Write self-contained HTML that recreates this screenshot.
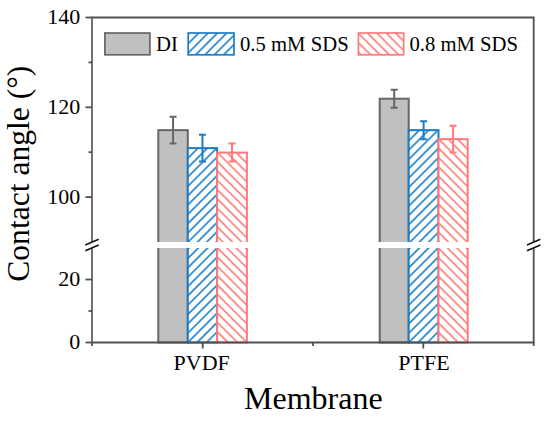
<!DOCTYPE html><html><head><meta charset="utf-8"><style>html,body{margin:0;padding:0;background:#fff;width:550px;height:422px;overflow:hidden}svg{display:block}text{font-family:"Liberation Serif",serif;fill:#000;font-kerning:none}</style></head><body>
<svg width="550" height="422" viewBox="0 0 550 422">
<defs>
<pattern id="p0" patternUnits="userSpaceOnUse" width="6.6" height="40" patternTransform="translate(0.80,0) rotate(45)"><rect x="-0.8" y="0" width="1.6" height="40" fill="#1b7dc8"/><rect x="5.8" y="0" width="1.6" height="40" fill="#1b7dc8"/></pattern>
<pattern id="p1" patternUnits="userSpaceOnUse" width="6.6" height="40" patternTransform="translate(7.60,0) rotate(45)"><rect x="-0.8" y="0" width="1.6" height="40" fill="#1b7dc8"/><rect x="5.8" y="0" width="1.6" height="40" fill="#1b7dc8"/></pattern>
<pattern id="p2" patternUnits="userSpaceOnUse" width="6.6" height="40" patternTransform="translate(9.00,0) rotate(-45)"><rect x="-0.8" y="0" width="1.6" height="40" fill="#ff7b7b"/><rect x="5.8" y="0" width="1.6" height="40" fill="#ff7b7b"/></pattern>
<pattern id="p3" patternUnits="userSpaceOnUse" width="6.6" height="40" patternTransform="translate(7.00,0) rotate(-45)"><rect x="-0.8" y="0" width="1.6" height="40" fill="#ff7b7b"/><rect x="5.8" y="0" width="1.6" height="40" fill="#ff7b7b"/></pattern>
<pattern id="p4" patternUnits="userSpaceOnUse" width="6.6" height="40" patternTransform="translate(8.10,0) rotate(45)"><rect x="-0.8" y="0" width="1.6" height="40" fill="#1b7dc8"/><rect x="5.8" y="0" width="1.6" height="40" fill="#1b7dc8"/></pattern>
<pattern id="p5" patternUnits="userSpaceOnUse" width="6.6" height="40" patternTransform="translate(4.60,0) rotate(45)"><rect x="-0.8" y="0" width="1.6" height="40" fill="#1b7dc8"/><rect x="5.8" y="0" width="1.6" height="40" fill="#1b7dc8"/></pattern>
<pattern id="p6" patternUnits="userSpaceOnUse" width="6.6" height="40" patternTransform="translate(1.00,0) rotate(-45)"><rect x="-0.8" y="0" width="1.6" height="40" fill="#ff7b7b"/><rect x="5.8" y="0" width="1.6" height="40" fill="#ff7b7b"/></pattern>
<pattern id="p7" patternUnits="userSpaceOnUse" width="6.6" height="40" patternTransform="translate(3.60,0) rotate(-45)"><rect x="-0.8" y="0" width="1.6" height="40" fill="#ff7b7b"/><rect x="5.8" y="0" width="1.6" height="40" fill="#ff7b7b"/></pattern>
<pattern id="p8" patternUnits="userSpaceOnUse" width="6.6" height="40" patternTransform="translate(7.80,0) rotate(45)"><rect x="-0.8" y="0" width="1.6" height="40" fill="#1b7dc8"/><rect x="5.8" y="0" width="1.6" height="40" fill="#1b7dc8"/></pattern>
<pattern id="p9" patternUnits="userSpaceOnUse" width="6.6" height="40" patternTransform="translate(7.80,0) rotate(-45)"><rect x="-0.8" y="0" width="1.6" height="40" fill="#ff7b7b"/><rect x="5.8" y="0" width="1.6" height="40" fill="#ff7b7b"/></pattern>
</defs>
<rect width="550" height="422" fill="#fff"/>
<rect x="158.30" y="130.15" width="29.50" height="212.35" fill="#c0c0c0" stroke="#666666" stroke-width="2"/>
<rect x="187.80" y="148.11" width="29.30" height="194.39" fill="#fff"/>
<rect x="187.80" y="148.11" width="29.30" height="94.89" fill="url(#p0)"/>
<rect x="187.80" y="247.00" width="29.30" height="95.50" fill="url(#p1)"/>
<rect x="187.80" y="148.11" width="29.30" height="194.39" fill="none" stroke="#1b7dc8" stroke-width="2"/>
<rect x="217.10" y="152.60" width="29.80" height="189.90" fill="#fff"/>
<rect x="217.10" y="152.60" width="29.80" height="90.40" fill="url(#p2)"/>
<rect x="217.10" y="247.00" width="29.80" height="95.50" fill="url(#p3)"/>
<rect x="217.10" y="152.60" width="29.80" height="189.90" fill="none" stroke="#ff7b7b" stroke-width="2"/>
<rect x="379.70" y="98.72" width="29.00" height="243.78" fill="#c0c0c0" stroke="#666666" stroke-width="2"/>
<rect x="408.70" y="130.15" width="29.80" height="212.35" fill="#fff"/>
<rect x="408.70" y="130.15" width="29.80" height="112.85" fill="url(#p4)"/>
<rect x="408.70" y="247.00" width="29.80" height="95.50" fill="url(#p5)"/>
<rect x="408.70" y="130.15" width="29.80" height="212.35" fill="none" stroke="#1b7dc8" stroke-width="2"/>
<rect x="438.50" y="139.13" width="29.20" height="203.37" fill="#fff"/>
<rect x="438.50" y="139.13" width="29.20" height="103.87" fill="url(#p6)"/>
<rect x="438.50" y="247.00" width="29.20" height="95.50" fill="url(#p7)"/>
<rect x="438.50" y="139.13" width="29.20" height="203.37" fill="none" stroke="#ff7b7b" stroke-width="2"/>
<path d="M173.05 116.68V143.62M169.55 116.68H176.55M169.55 143.62H176.55" stroke="#666666" stroke-width="2" fill="none"/>
<path d="M202.45 134.64V161.58M198.95 134.64H205.95M198.95 161.58H205.95" stroke="#1b7dc8" stroke-width="2" fill="none"/>
<path d="M232.00 143.62V161.58M228.50 143.62H235.50M228.50 161.58H235.50" stroke="#ff7b7b" stroke-width="2" fill="none"/>
<path d="M394.20 89.74V107.70M390.70 89.74H397.70M390.70 107.70H397.70" stroke="#666666" stroke-width="2" fill="none"/>
<path d="M423.60 121.17V139.13M420.10 121.17H427.10M420.10 139.13H427.10" stroke="#1b7dc8" stroke-width="2" fill="none"/>
<path d="M453.10 125.66V152.60M449.60 125.66H456.60M449.60 152.60H456.60" stroke="#ff7b7b" stroke-width="2" fill="none"/>
<rect x="93.00" y="242.00" width="439.70" height="6.00" fill="#fff"/>
<path d="M91.1 17.5H533.7V242.00M533.7 248.00V342.5H92.0" stroke="#505050" stroke-width="1.8" fill="none"/>
<path d="M92.0 342.5V248.00M92.0 242.00V17.5" stroke="#6c6c6c" stroke-width="1.9" fill="none"/>
<path d="M85.50 197.10H92.0" stroke="#505050" stroke-width="1.8"/>
<text x="80.3" y="203.80" font-size="22" text-anchor="end">100</text>
<path d="M85.50 107.30H92.0" stroke="#505050" stroke-width="1.8"/>
<text x="80.3" y="114.00" font-size="22" text-anchor="end">120</text>
<path d="M85.50 17.50H92.0" stroke="#505050" stroke-width="1.8"/>
<text x="80.3" y="24.20" font-size="22" text-anchor="end">140</text>
<path d="M88.50 152.20H92.0" stroke="#505050" stroke-width="1.8"/>
<path d="M88.50 62.40H92.0" stroke="#505050" stroke-width="1.8"/>
<path d="M85.50 342.50H92.0" stroke="#505050" stroke-width="1.8"/>
<text x="80.3" y="349.20" font-size="22" text-anchor="end">0</text>
<path d="M85.50 279.50H92.0" stroke="#505050" stroke-width="1.8"/>
<text x="80.3" y="286.20" font-size="22" text-anchor="end">20</text>
<path d="M88.50 311.00H92.0" stroke="#505050" stroke-width="1.8"/>
<path d="M202.70 342.5v6" stroke="#505050" stroke-width="1.8"/>
<path d="M423.30 342.5v6" stroke="#505050" stroke-width="1.8"/>
<path d="M92.00 342.5v3.5" stroke="#505050" stroke-width="1.8"/>
<path d="M313.00 342.5v3.5" stroke="#505050" stroke-width="1.8"/>
<path d="M533.70 342.5v3.5" stroke="#505050" stroke-width="1.8"/>
<path d="M85.30 244.95L98.70 239.25" stroke="#111" stroke-width="1.6"/>
<path d="M85.30 250.75L98.70 245.05" stroke="#111" stroke-width="1.6"/>
<path d="M527.00 244.95L540.40 239.25" stroke="#111" stroke-width="1.6"/>
<path d="M527.00 250.75L540.40 245.05" stroke="#111" stroke-width="1.6"/>
<text x="201.7" y="370.3" font-size="22" text-anchor="middle">PVDF</text>
<text x="424.0" y="370.3" font-size="22" text-anchor="middle">PTFE</text>
<text x="313.35" y="408.6" font-size="32" text-anchor="middle">Membrane</text>
<text transform="translate(29.3 173.7) rotate(-90)" x="0" y="0" font-size="31.6" text-anchor="middle">Contact angle (°)</text>
<rect x="104.90" y="33.0" width="45.00" height="21.8" fill="#c0c0c0" stroke="#666666" stroke-width="1.7"/>
<text x="156.0" y="50.6" font-size="20.7">DI</text>
<rect x="188.20" y="33.0" width="45.80" height="21.8" fill="#fff"/>
<rect x="188.20" y="33.0" width="45.80" height="21.8" fill="url(#p8)" stroke="#1b7dc8" stroke-width="1.7"/>
<text x="240.0" y="50.6" font-size="20.7">0.5 mM SDS</text>
<rect x="358.40" y="33.0" width="45.30" height="21.8" fill="#fff"/>
<rect x="358.40" y="33.0" width="45.30" height="21.8" fill="url(#p9)" stroke="#ff7b7b" stroke-width="1.7"/>
<text x="409.4" y="50.6" font-size="20.7">0.8 mM SDS</text>
</svg></body></html>
